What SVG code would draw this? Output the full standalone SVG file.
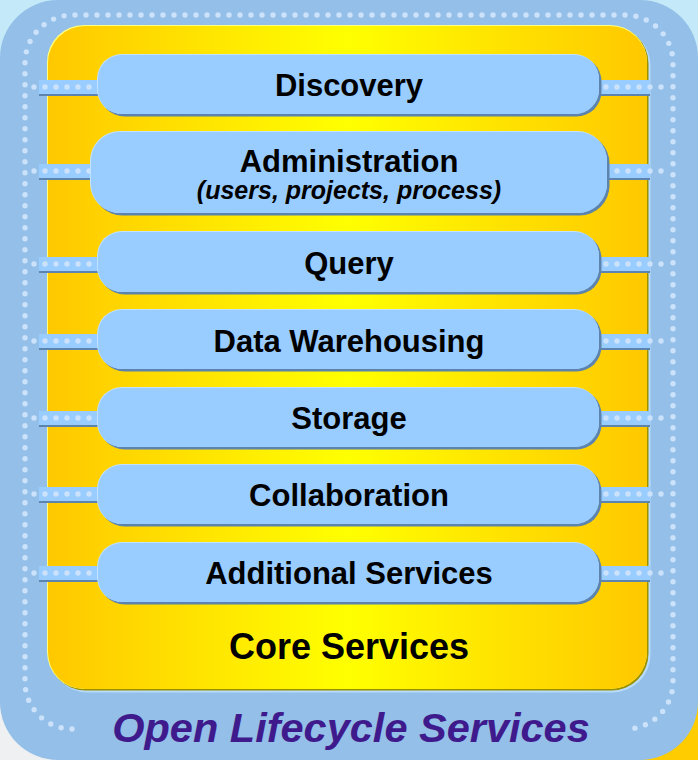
<svg xmlns="http://www.w3.org/2000/svg" width="698" height="760" viewBox="0 0 698 760">
<defs>
<linearGradient id="yel" x1="0" y1="0" x2="1" y2="0">
<stop offset="0" stop-color="#ffc800"/>
<stop offset="0.5" stop-color="#ffff00"/>
<stop offset="1" stop-color="#ffc800"/>
</linearGradient>
<style>
.nshadow{fill:#5d84ae}
.nhi{fill:#c2e2ff}
.nbody{fill:#99ccff}
.bar{fill:#99ccff}
.barline{fill:#5d84ae}
.dots{fill:none;stroke:#cbe2fa;stroke-width:5.4;stroke-linecap:round;stroke-dasharray:0 11}
.lbl{font-family:"Liberation Sans",Arial,sans-serif;font-weight:bold;font-size:31px;fill:#000;text-anchor:middle}
.sub{font-family:"Liberation Sans",Arial,sans-serif;font-weight:bold;font-style:italic;font-size:25px;fill:#000;text-anchor:middle}
</style>
</defs>
<g id="background">
<rect x="0" y="0" width="698" height="760" fill="#c4e9f8"/>
<rect x="0" y="380" width="349" height="380" fill="#eef0f2"/>
<rect x="349" y="380" width="349" height="380" fill="#ffcc00"/>
<rect x="0" y="0" width="698" height="760" rx="58" ry="58" fill="#93bfe8"/>
<path class="dots" d="M72,729 A47,47 0 0 1 25,682 L25,63 A48,48 0 0 1 73,15 L625,15 A48,48 0 0 1 673,63 L673,682 A47,47 0 0 1 626,729"/>
</g>
<g id="core-services">
<rect x="49.5" y="27.5" width="601" height="665" rx="38" fill="#b8dcfb"/>
<rect x="48.5" y="26.5" width="600" height="664" rx="37" fill="#9a9000"/>
<rect x="47" y="25" width="600" height="664" rx="37" fill="#ffff80"/>
<rect x="48" y="26" width="599" height="663" rx="37" fill="url(#yel)"/>
<text x="349" y="659" class="lbl" style="font-size:36px">Core Services</text>
</g>
<g id="connectors">
<g id="bar-discovery">
<rect class="bar" x="39" y="80" width="70" height="14"/><rect class="barline" x="39" y="94" width="70" height="2"/>
<rect class="bar" x="590" y="80" width="60" height="14"/><rect class="barline" x="590" y="94" width="60" height="2"/>
<path class="dots" d="M34,87 L662,87"/>
</g>
<g id="bar-administration">
<rect class="bar" x="39" y="164" width="62" height="14"/><rect class="barline" x="39" y="178" width="62" height="2"/>
<rect class="bar" x="598" y="164" width="52" height="14"/><rect class="barline" x="598" y="178" width="52" height="2"/>
<path class="dots" d="M34,171 L662,171"/>
</g>
<g id="bar-query">
<rect class="bar" x="39" y="257" width="70" height="14"/><rect class="barline" x="39" y="271" width="70" height="2"/>
<rect class="bar" x="590" y="257" width="60" height="14"/><rect class="barline" x="590" y="271" width="60" height="2"/>
<path class="dots" d="M34,264 L662,264"/>
</g>
<g id="bar-dw">
<rect class="bar" x="39" y="334" width="70" height="14"/><rect class="barline" x="39" y="348" width="70" height="2"/>
<rect class="bar" x="590" y="334" width="60" height="14"/><rect class="barline" x="590" y="348" width="60" height="2"/>
<path class="dots" d="M34,341 L662,341"/>
</g>
<g id="bar-storage">
<rect class="bar" x="39" y="411" width="70" height="14"/><rect class="barline" x="39" y="425" width="70" height="2"/>
<rect class="bar" x="590" y="411" width="60" height="14"/><rect class="barline" x="590" y="425" width="60" height="2"/>
<path class="dots" d="M34,418 L662,418"/>
</g>
<g id="bar-collaboration">
<rect class="bar" x="39" y="487" width="70" height="14"/><rect class="barline" x="39" y="501" width="70" height="2"/>
<rect class="bar" x="590" y="487" width="60" height="14"/><rect class="barline" x="590" y="501" width="60" height="2"/>
<path class="dots" d="M34,494 L662,494"/>
</g>
<g id="bar-additional">
<rect class="bar" x="39" y="566" width="70" height="14"/><rect class="barline" x="39" y="580" width="70" height="2"/>
<rect class="bar" x="590" y="566" width="60" height="14"/><rect class="barline" x="590" y="580" width="60" height="2"/>
<path class="dots" d="M34,573 L662,573"/>
</g>
</g>
<g id="discovery">
<rect class="nshadow" x="99.5" y="56.5" width="502" height="60" rx="25"/>
<rect class="nhi" x="97" y="54" width="502" height="60" rx="25"/>
<rect class="nbody" x="98" y="55" width="501" height="59" rx="24"/>
<text class="lbl" x="349" y="96">Discovery</text>
</g>
<g id="administration">
<rect class="nshadow" x="92.5" y="133.5" width="517" height="82" rx="30"/>
<rect class="nhi" x="90" y="131" width="517" height="82" rx="30"/>
<rect class="nbody" x="91" y="132" width="516" height="81" rx="29"/>
<text class="lbl" x="349" y="172">Administration</text>
<text class="sub" x="349" y="199">(users, projects, process)</text>
</g>
<g id="query">
<rect class="nshadow" x="99.5" y="233.5" width="502" height="61" rx="25"/>
<rect class="nhi" x="97" y="231" width="502" height="61" rx="25"/>
<rect class="nbody" x="98" y="232" width="501" height="60" rx="24"/>
<text class="lbl" x="349" y="274">Query</text>
</g>
<g id="data-warehousing">
<rect class="nshadow" x="99.5" y="311.5" width="502" height="60" rx="25"/>
<rect class="nhi" x="97" y="309" width="502" height="60" rx="25"/>
<rect class="nbody" x="98" y="310" width="501" height="59" rx="24"/>
<text class="lbl" x="349" y="352">Data Warehousing</text>
</g>
<g id="storage">
<rect class="nshadow" x="99.5" y="389.5" width="502" height="60" rx="25"/>
<rect class="nhi" x="97" y="387" width="502" height="60" rx="25"/>
<rect class="nbody" x="98" y="388" width="501" height="59" rx="24"/>
<text class="lbl" x="349" y="429">Storage</text>
</g>
<g id="collaboration">
<rect class="nshadow" x="99.5" y="466.5" width="502" height="60" rx="25"/>
<rect class="nhi" x="97" y="464" width="502" height="60" rx="25"/>
<rect class="nbody" x="98" y="465" width="501" height="59" rx="24"/>
<text class="lbl" x="349" y="506">Collaboration</text>
</g>
<g id="additional-services">
<rect class="nshadow" x="99.5" y="544.5" width="502" height="60" rx="25"/>
<rect class="nhi" x="97" y="542" width="502" height="60" rx="25"/>
<rect class="nbody" x="98" y="543" width="501" height="59" rx="24"/>
<text class="lbl" x="349" y="584">Additional Services</text>
</g>
<g id="open-lifecycle-services">
<text x="351" y="742" style="font-family:'Liberation Sans',Arial,sans-serif;font-weight:bold;font-style:italic;font-size:41.5px;fill:#3f1a8c;text-anchor:middle">Open Lifecycle Services</text>
</g>
</svg>
